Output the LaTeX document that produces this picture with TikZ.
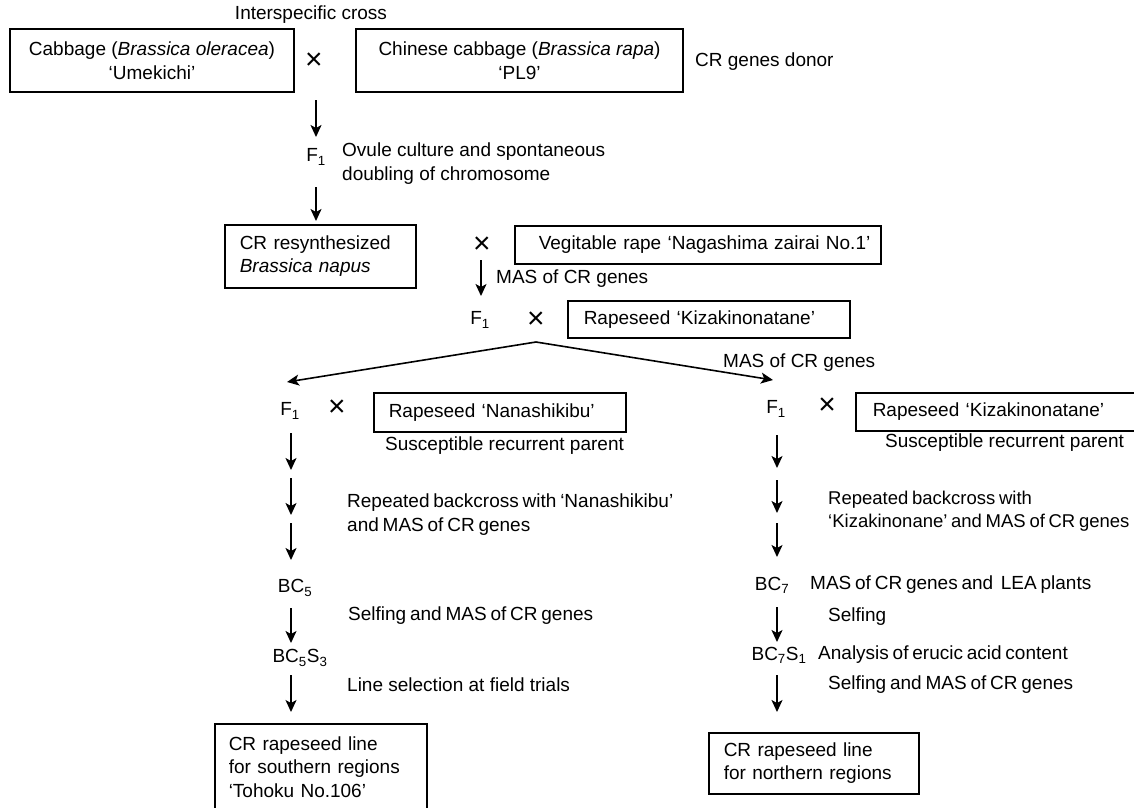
\documentclass[tikz,border=0pt]{standalone}
\usepackage{fontspec}
\setmainfont{Liberation Sans}
\usetikzlibrary{arrows.meta}
\newcommand\tightsp{\spaceskip=0.2em\relax}
\begin{document}
\begin{tikzpicture}[x=1pt,y=-1pt,
    every node/.style={font=\fontsize{19}{23.5}\selectfont, inner sep=0pt},
    tight/.style={font=\fontsize{19}{23.5}\selectfont\tightsp},
    cross/.style={font=\fontsize{30}{30}\selectfont},
    box/.style={draw, line width=1.5pt, align=center},
    lbox/.style={draw, line width=1.5pt, align=left, anchor=north west, inner xsep=15pt},
    note/.style={anchor=west, align=left},
    arr/.style={-{Stealth[length=12pt,width=11pt,inset=3pt]}, line width=1.6pt}]
  \useasboundingbox (0,0) rectangle (1134,807);
  \draw
    (311,15) node (interspecific){Interspecific cross}
    (152,60.5) node[box, minimum width=284, minimum height=63] (umekichi){Cabbage (\textit{Brassica oleracea})\\‘Umekichi’}
    (314,61) node[cross] (x1){×}
    (519.5,60.5) node[box, minimum width=327, minimum height=63] (pl9){Chinese cabbage (\textit{Brassica rapa})\\‘PL9’}
    (695,62) node[note] (donor){CR genes donor}
    (316,157) node (f1a){F\textsubscript{1}}
    (342,163.5) node[note] (ovule){Ovule culture and spontaneous\\doubling of chromosome}
    (224,224) node[lbox, text width=161, minimum height=63] (napus){CR resynthesized\\\textit{Brassica napus}}
    (482,245) node[cross] (x2){×}
    (514,225) node[lbox, tight, inner xsep=24pt, text width=318, minimum height=38] (nagashima){\mbox{Vegitable rape ‘Nagashima zairai No.1’}}
    (496,279) node[note] (mas1){MAS of CR genes}
    (480,320) node (f1b){F\textsubscript{1}}
    (536,320) node[cross] (x3){×}
    (567,300) node[lbox, inner xsep=16pt, text width=250, minimum height=37] (kiza){\mbox{Rapeseed ‘Kizakinonatane’}}
    (723,363) node[note] (mas2){MAS of CR genes}
    (290,411) node (f1c){F\textsubscript{1}}
    (337,408) node[cross] (x4){×}
    (373,392) node[lbox, text width=222, minimum height=39] (nana){\mbox{Rapeseed ‘Nanashikibu’}}
    (385,446) node[note] (susc1){Susceptible recurrent parent}
    (347,514.5) node[note, tight] (rep1){Repeated backcross with ‘Nanashikibu’\\and MAS of CR genes}
    (295,588) node (bc5){BC\textsubscript{5}}
    (348,616) node[note, tight] (self1){Selfing and MAS of CR genes}
    (300,658) node (bc5s3){BC\textsubscript{5}S\textsubscript{3}}
    (347,685) node[note] (linesel){Line selection at field trials}
    (214,723) node[lbox, inner xsep=14pt, text width=184, minimum height=86] (south){CR rapeseed line\\for southern regions\\‘Tohoku No.106’}
    (776,409) node (f1d){F\textsubscript{1}}
    (827,406) node[cross] (x5){×}
    (855,392) node[lbox, inner xsep=17pt, text width=266, minimum height=38] (kizb){\mbox{Rapeseed ‘Kizakinonatane’}}
    (885,443) node[note] (susc2){Susceptible recurrent parent}
    (828,511) node[note, font=\fontsize{18.5}{23}\selectfont\tightsp] (rep2){Repeated backcross with\\‘Kizakinonane’ and MAS of CR genes}
    (772,585) node (bc7){BC\textsubscript{7}}
    (810,585) node[note, tight] (mas3){MAS of CR genes and~~LEA plants}
    (828,617) node[note] (selfing){Selfing}
    (779,655) node (bc7s1){BC\textsubscript{7}S\textsubscript{1}}
    (818,655) node[note, tight] (erucic){Analysis of erucic acid content}
    (828,685) node[note, tight] (self2){Selfing and MAS of CR genes}
    (708,732) node[lbox, text width=180, minimum height=61] (north){CR rapeseed line\\for northern regions};
  \path
    (316,100) coordinate (t1) (316,137) coordinate (t2)
    (316,187) coordinate (t3) (316,221) coordinate (t4)
    (481,260) coordinate (m1) (481,296) coordinate (m2)
    (536,342) coordinate (split) (287,382) coordinate (sl) (773,380) coordinate (sr)
    (291,433) coordinate (l1) (291,470) coordinate (l2)
    (291,478) coordinate (l3) (291,515) coordinate (l4)
    (291,523) coordinate (l5) (291,560) coordinate (l6)
    (291,608) coordinate (l7) (291,643) coordinate (l8)
    (291,675) coordinate (l9) (291,712) coordinate (l10)
    (777,435) coordinate (r1) (777,468) coordinate (r2)
    (777,480) coordinate (r3) (777,513) coordinate (r4)
    (777,523) coordinate (r5) (777,557) coordinate (r6)
    (777,607) coordinate (r7) (777,642) coordinate (r8)
    (777,675) coordinate (r9) (777,712) coordinate (r10);
  \begin{scope}[arr]
    \draw (t1) to (t2);
    \draw (t3) to (t4);
    \draw (m1) to (m2);
    \draw (split) to (sl);
    \draw (split) to (sr);
    \draw (l1) to (l2);
    \draw (l3) to (l4);
    \draw (l5) to (l6);
    \draw (l7) to (l8);
    \draw (l9) to (l10);
    \draw (r1) to (r2);
    \draw (r3) to (r4);
    \draw (r5) to (r6);
    \draw (r7) to (r8);
    \draw (r9) to (r10);
  \end{scope}
\end{tikzpicture}
\end{document}
